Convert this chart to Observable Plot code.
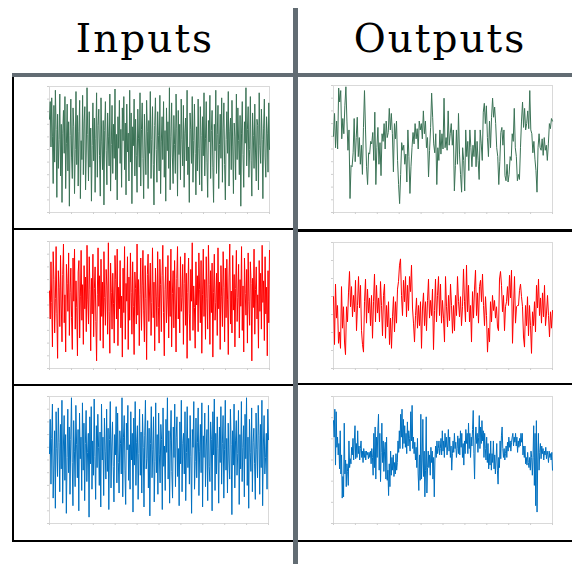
<!DOCTYPE html>
<html><head><meta charset="utf-8">
<script src="https://cdn.jsdelivr.net/npm/d3@7"></script>
<script src="https://cdn.jsdelivr.net/npm/@observablehq/plot@0.6"></script>
<style>
body{margin:0;background:#fff}
#root{position:relative;width:572px;height:564px;overflow:hidden;background:#fff}
.t{position:absolute;top:19px;width:294px;text-align:center;font-family:"DejaVu Serif",serif;font-size:39px;line-height:1;color:#000;letter-spacing:2px;padding-left:2px;box-sizing:border-box}
.ln{position:absolute}
.k{background:#000}
.g{background:#626c73}
</style></head>
<body><div id="root"></div>
<script>
const titles = ["Inputs", "Outputs"];

const greenIn = [74,88,52,91,60,23,85,40,97,66,12,78,35,58,94,29,70,8,63,81,47,92,19,55,86,33,72,5,61,90,44,27,83,68,15,50,96,38,77,21,64,89,11,57,42,93,30,71,84,18,48,99,62,25,80,36,67,9,53,87,41,75,16,59,95,28,69,82,45,13,91,56,34,73,6,65,88,49,22,79,60,37,94,17,54,85,31,70,43,98,26,62,10,76,51,89,39,66,20,83,
57,92,34,71,14,86,48,63,25,97,40,79,7,68,53,90,29,74,45,16,82,59,36,95,21,66,87,43,11,78,52,30,89,64,19,73,47,96,27,58,84,38,6,69,91,50,24,80,61,33,93,15,56,76,42,88,28,65,9,83,49,72,35,99,18,60,87,44,23,77,54,31,94,67,13,81,46,70,26,90,58,37,85,20,63,75,41,97,30,52,8,79,66,39,92,24,57,86,47,14,
68,33,90,51,22,84,61,17,76,45,95,29,59,88,40,12,73,56,93,27,65,81,36,8,70,49,97,31,62,85,19,54,78,43,91,24,67,87,38,10,58,80,47,96,21,64,75,34,89,52,15,71,60,26,94,42,83,57,30,77,5,63,88,46,20,72,55,99,37,66,84,28,50,92,41,13,79,61,35,86,48,25,74,69,18,95,53,39,82,58,11,67,90,44,28,76,63,32,87,50];

const greenOut = [60,78,51,72,50,98,87,96,58,74,62,84,99,72,49,65,11,37,36,47,74,40,59,75,44,59,38,53,30,67,96,65,36,22,47,46,56,54,63,41,79,22,51,67,38,55,29,62,56,70,50,72,59,63,82,65,78,62,32,70,58,72,41,22,7,30,55,49,53,38,46,24,65,44,15,36,51,63,54,70,58,66,50,72,65,70,58,80,62,72,51,59,28,49,67,94,75,54,47,62,22,51,41,65,46,62,50,90,51,59,49,80,53,62,70,53,65,17,37,65,38,78,46,30,16,51,41,17,65,44,56,33,65,51,36,53,44,65,36,56,41,26,65,54,41,79,86,70,84,59,44,72,51,75,90,75,83,70,51,44,22,40,63,67,53,65,29,25,38,24,30,44,41,62,56,82,51,44,25,30,26,51,72,87,67,82,65,70,80,66,96,65,62,47,56,42,33,16,51,62,51,49,58,45,59,49,53,41,54,70,66,74,72];

const redIn = [61,39,84,52,17,92,70,28,55,96,43,8,77,64,33,89,50,21,74,98,36,58,13,82,67,45,91,26,60,79,40,15,87,53,94,31,69,48,10,76,85,24,57,93,38,66,19,81,47,72,29,97,54,35,88,62,14,71,43,90,25,63,80,37,6,58,95,49,73,22,86,41,68,16,92,56,34,78,65,27,99,45,12,83,60,31,75,51,20,89,70,39,94,18,64,47,85,32,57,9,
79,44,96,23,67,53,88,15,72,38,91,60,27,84,49,11,76,63,35,98,42,70,18,58,87,30,65,93,46,21,81,55,7,74,90,37,61,83,26,52,95,40,68,14,79,57,33,92,48,20,86,66,29,73,97,44,10,62,80,36,54,89,24,69,41,94,17,59,77,32,85,50,13,71,96,39,64,28,88,45,56,82,19,67,91,34,75,8,60,87,43,22,78,53,99,30,65,48,16,84,
50,73,29,91,62,36,85,12,58,94,41,70,23,88,55,31,97,66,19,77,44,83,9,60,90,38,52,75,26,95,47,68,15,81,57,33,92,64,21,79,40,86,54,11,72,98,35,61,28,89,46,74,17,63,93,37,56,82,24,70,49,96,30,65,13,87,59,42,78,20,91,53,34,84,67,6,71,48,94,27,62,80,39,58,16,85,45,75,31,97,52,69,22,88,43,64,10,77,36,93];

const redOut = [57,19,67,40,50,20,29,16,65,32,49,21,11,49,37,60,77,49,65,41,58,45,70,30,50,73,48,66,30,19,13,53,71,36,63,44,56,34,58,24,53,75,37,66,44,56,37,69,50,26,58,67,24,50,33,53,19,40,16,41,57,29,53,36,63,69,82,87,58,42,70,53,73,41,66,46,73,61,82,48,36,21,42,56,32,50,34,53,16,48,60,34,53,30,54,71,40,54,42,63,15,46,71,37,58,73,42,67,36,54,40,21,73,49,33,58,38,67,50,28,50,30,58,42,73,53,41,57,34,49,79,53,37,82,45,66,37,50,21,61,40,63,78,42,60,36,65,70,53,75,50,34,57,42,13,32,21,53,37,58,46,54,40,49,33,30,71,77,66,45,58,30,49,53,65,50,74,56,78,20,48,73,36,49,50,50,62,67,57,49,25,17,50,34,57,26,50,34,12,45,34,53,29,66,48,71,42,56,36,60,41,66,34,44,58,42,25,45,32,46];

const blueIn = [55,82,31,67,94,20,46,73,12,88,59,37,91,64,25,78,43,97,16,61,85,34,70,8,52,90,40,76,23,66,99,48,14,81,57,29,93,62,36,74,10,87,51,68,26,95,42,79,18,63,89,33,56,71,5,84,47,92,27,65,38,98,53,19,77,44,86,60,30,72,13,94,50,68,22,83,57,35,90,41,75,11,66,96,28,61,80,45,17,70,54,92,32,87,48,24,73,63,39,99,
21,68,85,42,15,79,58,93,34,62,27,88,50,71,9,83,46,96,30,64,77,19,55,90,38,72,24,86,60,13,69,97,43,51,81,28,75,6,63,92,36,58,84,17,49,95,40,70,23,87,54,32,78,66,11,91,45,61,26,82,56,99,35,73,16,65,89,41,20,76,52,94,29,68,84,37,59,14,80,47,97,25,63,71,39,88,18,56,92,44,67,31,85,53,8,74,60,96,27,49,
83,36,64,91,22,57,78,40,95,13,69,52,87,29,61,74,18,93,45,33,80,66,10,88,54,98,26,71,39,84,59,16,76,48,92,31,63,85,20,58,97,42,67,24,79,50,35,90,62,7,73,46,94,28,65,81,38,55,89,15,70,43,96,33,60,77,21,86,51,99,30,68,12,82,56,41,91,25,64,75,47,19,87,58,36,93,69,23,78,44,97,14,61,85,39,52,71,27,90,66];

const blueOut = [81,68,90,46,88,60,68,54,63,43,73,39,54,20,37,21,79,39,50,29,47,41,30,65,44,51,47,60,54,67,50,65,77,51,63,52,73,55,61,50,59,65,52,57,48,59,52,57,50,57,54,56,51,56,52,57,47,59,52,38,71,44,76,35,68,52,73,86,42,71,33,56,79,48,65,41,57,64,35,68,34,42,22,47,29,57,38,52,42,54,37,48,39,55,42,48,65,56,73,59,86,68,90,59,82,63,77,60,71,55,80,61,73,67,57,88,65,93,59,68,55,64,50,60,44,67,39,26,54,34,86,35,50,82,37,57,21,42,84,24,44,57,44,54,38,60,48,57,35,52,21,50,61,52,65,55,59,65,54,59,67,54,73,57,65,52,71,60,68,54,61,74,57,68,52,61,42,55,65,56,71,59,64,52,59,69,55,67,54,73,60,71,52,63,46,65,55,74,63,71,55,79,59,71,52,68,61,74,89,55,35,65,76,63,71,56,68,85,59,76,63,81,65,73,52,71,59,50,68,48,63,43,55,46,65,42,55,48,65,43,54,39,50,63,42,31,52,44,65,51,69,76,59,52,59,50,55,61,52,64,57,68,60,65,57,64,68,71,61,68,64,71,61,68,56,65,60,67,61,71,64,71,54,61,52,61,47,52,46,56,48,44,52,42,57,52,38,52,77,30,71,14,81,9,50,71,42,56,63,51,61,55,59,50,57,54,60,51,57,54,48,57,52,55,50,56,42];

const panels = [
  {data: greenIn,  color: "#3b7356", x: 49,  y: 86,  w: 220, h: 126, yt: 10},
  {data: greenOut, color: "#3b7356", x: 333, y: 85,  w: 219, h: 127, yt: 10},
  {data: redIn,    color: "#ff0000", x: 49,  y: 241, w: 220, h: 127, yt: 10},
  {data: redOut,   color: "#ff0000", x: 333, y: 242, w: 219, h: 126, yt: 7},
  {data: blueIn,   color: "#0070c0", x: 49,  y: 396, w: 219, h: 127, yt: 10},
  {data: blueOut,  color: "#0070c0", x: 333, y: 396, w: 219, h: 127, yt: 6}
];

const root = document.getElementById("root");

titles.forEach((t, i) => {
  const d = document.createElement("div");
  d.className = "t";
  d.style.left = (i === 0 ? -3 : 292) + "px";
  d.textContent = t;
  root.appendChild(d);
});

const ml = 6, mr = 2, mt = 2, mb = 6;
for (const p of panels) {
  const n = p.data.length;
  const chart = Plot.plot({
    width: p.w + ml + mr,
    height: p.h + mt + mb,
    marginLeft: ml, marginRight: mr, marginTop: mt, marginBottom: mb,
    x: {domain: [0, n - 1]},
    y: {domain: [0, 100]},
    style: {background: "transparent", overflow: "visible"},
    marks: [
      Plot.frame({stroke: "#d9d9d9"}),
      Plot.axisX({ticks: d3.range(11).map(i => i * (n - 1) / 10), tickSize: 2, tickFormat: () => "", stroke: "#cfcfcf", label: null}),
      Plot.axisY({ticks: d3.range(p.yt + 1).map(i => i * 100 / p.yt), tickSize: 2, tickFormat: () => "", stroke: "#cfcfcf", label: null}),
      Plot.lineY(p.data, {x: (d, i) => i, y: d => d, stroke: p.color, strokeWidth: 1})
    ]
  });
  chart.style.position = "absolute";
  chart.style.left = (p.x - ml) + "px";
  chart.style.top = (p.y - mt) + "px";
  root.appendChild(chart);
}

const lines = [
  ["k", 12, 75, 2, 467],
  ["k", 12, 228, 281, 2],
  ["k", 298, 228.5, 274, 3],
  ["k", 12, 383.5, 281, 2],
  ["k", 298, 383, 274, 2],
  ["k", 12, 539.5, 560, 2],
  ["g", 12, 73, 560, 4],
  ["g", 293, 8, 5, 556]
];
for (const [c, l, t, w, h] of lines) {
  const d = document.createElement("div");
  d.className = "ln " + c;
  Object.assign(d.style, {left: l + "px", top: t + "px", width: w + "px", height: h + "px"});
  root.appendChild(d);
}
</script>
</body></html>
